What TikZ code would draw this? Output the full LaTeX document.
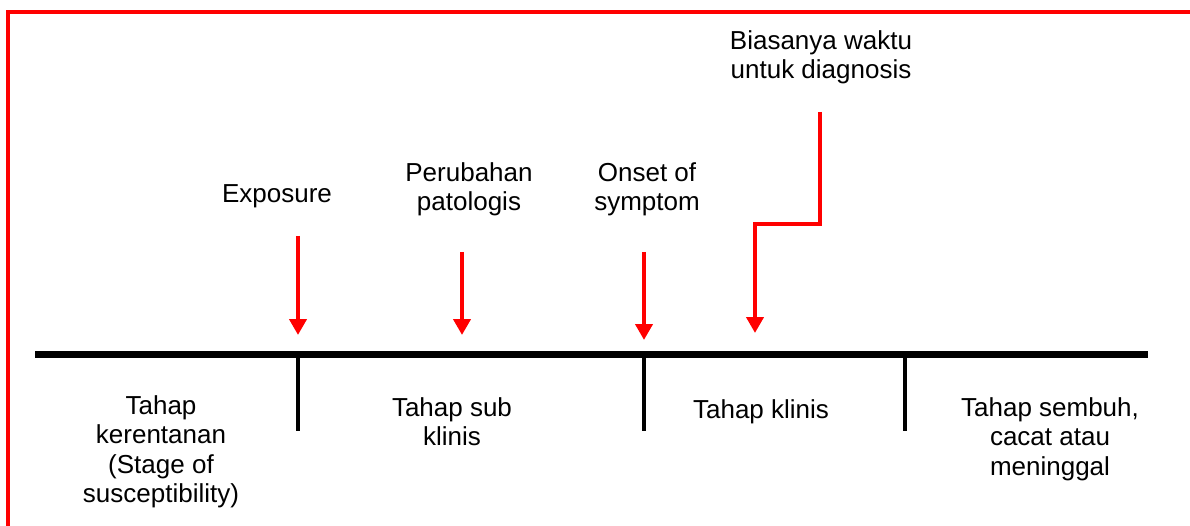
\documentclass[tikz,border=0pt]{standalone}
\usepackage{fontspec}
\setmainfont{Liberation Sans}
\usetikzlibrary{arrows.meta}
\begin{document}
\begin{tikzpicture}[x=1pt,y=-1pt,
  lbl/.style={font=\fontsize{26}{29.5}\selectfont,align=center,inner sep=0pt,anchor=north},
  redarrow/.style={draw=red,line width=4pt,-{Triangle[width=17pt,length=16pt]}},
  tick/.style={draw=black,line width=4pt},
  frame/.style={draw=red,line width=4.5pt}]
\useasboundingbox (0,0) rectangle (1190,526);
% frame
\coordinate (fbl) at (8,527);
\coordinate (ftl) at (8,12);
\coordinate (ftr) at (1191,12);
\draw[frame] (fbl) -- (ftl) -- (ftr);
% timeline
\coordinate (tl) at (35,354);
\coordinate (tr) at (1148,354);
\draw[black,line width=7pt] (tl) -- (tr);
\coordinate (t1a) at (298,354); \coordinate (t1b) at (298,431);
\coordinate (t2a) at (644,354); \coordinate (t2b) at (644,431);
\coordinate (t3a) at (905,354); \coordinate (t3b) at (905,431);
\draw[tick] (t1a) -- (t1b);
\draw[tick] (t2a) -- (t2b);
\draw[tick] (t3a) -- (t3b);
% arrows
\coordinate (a1s) at (298,236); \coordinate (a1e) at (298,335);
\coordinate (a2s) at (462,252); \coordinate (a2e) at (462,335);
\coordinate (a3s) at (644,252); \coordinate (a3e) at (644,340);
\coordinate (a4s) at (820,112); \coordinate (a4m1) at (820,224);
\coordinate (a4m2) at (755,224); \coordinate (a4e) at (755,333);
\draw[redarrow] (a1s) -- (a1e);
\draw[redarrow] (a2s) -- (a2e);
\draw[redarrow] (a3s) -- (a3e);
\draw[redarrow] (a4s) -- (a4m1) -- (a4m2) -- (a4e);
% labels above
\node[lbl] (exp) at (277,184) {Exposure};
\node[lbl] (pat) at (469,162) {Perubahan\\patologis};
\node[lbl] (ons) at (647,162) {Onset of\\symptom};
\node[lbl] (dia) at (821,30) {Biasanya waktu\\untuk diagnosis};
% labels below
\node[lbl] (s1) at (161,395) {Tahap\\kerentanan\\(Stage of\\susceptibility)};
\node[lbl] (s2) at (452,397) {Tahap sub\\klinis};
\node[lbl] (s3) at (761,399) {Tahap klinis};
\node[lbl] (s4) at (1050,397) {Tahap sembuh,\\cacat atau\\meninggal};
\end{tikzpicture}
\end{document}
